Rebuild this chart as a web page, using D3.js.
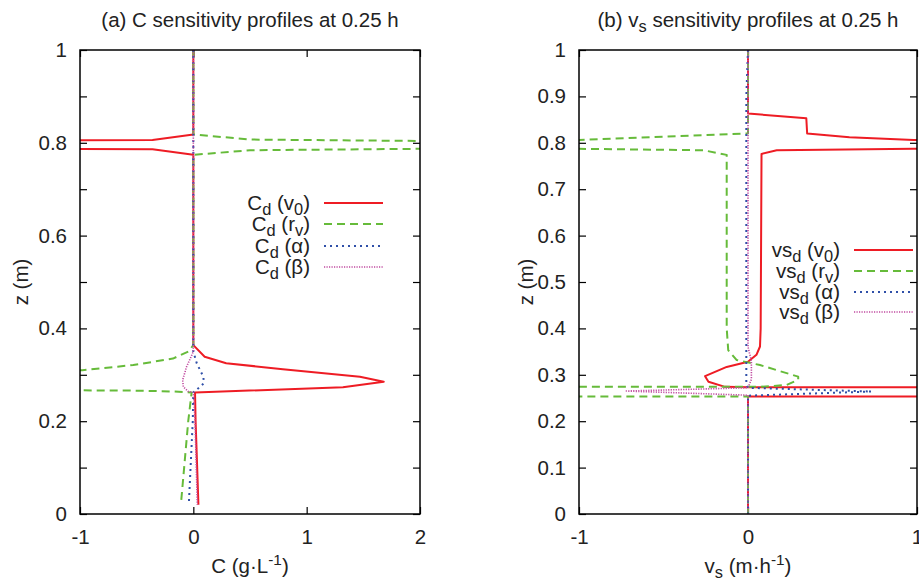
<!DOCTYPE html>
<html><head><meta charset="utf-8">
<script src="https://cdn.jsdelivr.net/npm/d3@7"></script>
<style>
body{margin:0;background:#fff;}
svg{display:block;font-family:"Liberation Sans",Arial,sans-serif;}
</style></head>
<body><svg id="c" width="919" height="584"></svg>
<script>
// ---------- DATA: profiles as [value, z] ----------
// Panel (a): C sensitivity (g/L) vs depth z (m)
const cV0 = [[0,1],[0,0.818],[-0.36,0.806],[-1.5,0.805],[-1.5,0.787],[-0.36,0.786],[0,0.774],[0,0.364],[0.10,0.339],[0.29,0.325],[0.79,0.312],[1.47,0.296],[1.68,0.285],[1.32,0.273],[0.015,0.262],[0.02,0.2],[0.045,0.02]];
const cRv = [[0,1],[0,0.818],[0.5,0.807],[1.98,0.804],[2.5,0.804],[2.5,0.787],[1.98,0.787],[0.5,0.784],[0,0.774],[0,0.364],[-0.044,0.35],[-0.18,0.335],[-0.53,0.321],[-0.98,0.31],[-1.5,0.309],[-1.5,0.267],[-0.53,0.266],[-0.18,0.264],[-0.015,0.262],[-0.045,0.2],[-0.11,0.02]];
const cAlpha = [[0,1],[0,0.35],[0.03,0.325],[0.088,0.296],[0.094,0.282],[0.044,0.271],[0,0.262],[-0.005,0.2],[-0.04,0.02]];
const cBeta = [[0,1],[0,0.35],[-0.06,0.317],[-0.094,0.289],[-0.088,0.274],[-0.044,0.264],[0,0.262],[0.015,0.2],[0.035,0.02]];
// Panel (b): vs sensitivity (m/h) vs depth z (m)
const vV0 = [[0,1],[0,0.863],[0.345,0.853],[0.35,0.820],[0.6,0.812],[0.98,0.806],[1.5,0.805],[1.5,0.787],[0.98,0.787],[0.17,0.784],[0.08,0.776],[0.075,0.40],[0.071,0.361],[0.05,0.343],[0,0.328],[-0.126,0.317],[-0.254,0.297],[-0.234,0.285],[-0.136,0.274],[0,0.273],[1.0,0.273],[1.5,0.273],[1.5,0.253],[0,0.253],[0,0]];
const vRv = [[0,1],[0,0.82],[-1,0.806],[-1.5,0.805],[-1.5,0.787],[-1,0.787],[-0.264,0.784],[-0.126,0.774],[-0.126,0.40],[-0.117,0.353],[-0.068,0.332],[0.071,0.321],[0.297,0.296],[0.297,0.289],[0.228,0.278],[0.07,0.274],[-1,0.274],[-1.5,0.274],[-1.5,0.253],[0,0.253],[0,0]];
const vAlpha = [[0,1],[-0.01,0.9],[-0.01,0.28],[0,0.272],[0.73,0.264],[0,0.255],[0,0]];
const vBeta = [[0,1],[0,0.36],[0.02,0.33],[0.02,0.29],[0,0.272],[-0.72,0.265],[0,0.256],[0,0]];

const xTicksA = [-1,0,1,2];
const xTicksB = [-1,0,1];
const zTicks = [0,0.1,0.2,0.3,0.4,0.5,0.6,0.7,0.8,0.9,1];
const paramLabels = [["v","0"],["r","v"],["α",null],["β",null]];

// ---------- STYLE ----------
const styles = [
  {color:"#ee1c24", dash:null, w:2},
  {color:"#66bb3a", dash:"8,5", w:2},
  {color:"#2f4fa8", dash:"2,4", w:2},
  {color:"#c04aa0", dash:"1.2,1.3", w:1.6}
];
const FS = 20.5;
const svg = d3.select("#c");
const fmt = d => d3.format("~g")(d).replace("−","-");

function panel(opt){
  const x = d3.scaleLinear().domain(opt.xdom).range([opt.left, opt.right]);
  const y = d3.scaleLinear().domain([0,1]).range([514, 50]);
  const g = svg.append("g");
  const cid = "clip"+opt.id;
  g.append("clipPath").attr("id",cid).append("rect")
    .attr("x",opt.left).attr("y",50).attr("width",opt.right-opt.left).attr("height",464);

  // axes
  const fmtY = opt.labelEvery2 ? (d => (Math.round(d*10)%2===0 ? fmt(d) : "")) : fmt;
  const axL = g.append("g").attr("transform",`translate(${opt.left},0)`)
    .call(d3.axisLeft(y).tickValues(zTicks).tickFormat(fmtY).tickSizeInner(-7).tickSizeOuter(0).tickPadding(13));
  const axR = g.append("g").attr("transform",`translate(${opt.right},0)`)
    .call(d3.axisRight(y).tickValues(zTicks).tickFormat("").tickSizeInner(-7).tickSizeOuter(0));
  const axB = g.append("g").attr("transform",`translate(0,514)`)
    .call(d3.axisBottom(x).tickValues(opt.xticks).tickFormat(fmt).tickSizeInner(-7).tickSizeOuter(0).tickPadding(15));
  const axT = g.append("g").attr("transform",`translate(0,50)`)
    .call(d3.axisTop(x).tickValues(opt.xticks).tickFormat("").tickSizeInner(-7).tickSizeOuter(0));
  [axL,axR,axB,axT].forEach(a=>{
    a.select(".domain").remove();
    a.selectAll(".tick line").attr("stroke","#000").attr("stroke-width",1.2);
    a.selectAll("text").attr("font-size",FS).attr("fill","#222").attr("font-family","Liberation Sans, Arial, sans-serif");
  });

  // series
  const line = d3.line().x(d=>x(d[0])).y(d=>y(d[1]));
  const lg = g.append("g").attr("clip-path",`url(#${cid})`);
  opt.series.forEach((s,i)=>{
    lg.append("path").attr("d",line(s)).attr("fill","none")
      .attr("stroke",styles[i].color).attr("stroke-width",styles[i].w)
      .attr("stroke-dasharray",styles[i].dash).attr("stroke-linejoin","round");
  });

  // frame
  g.append("rect").attr("x",opt.left).attr("y",50).attr("width",opt.right-opt.left).attr("height",464)
    .attr("fill","none").attr("stroke","#000").attr("stroke-width",1.5);

  // legend
  paramLabels.forEach((p,i)=>{
    const yy = opt.legY[i];
    const t = g.append("text").attr("x",opt.legTextX).attr("y",yy+7).attr("text-anchor","end")
      .attr("font-size",FS).attr("fill","#222");
    t.append("tspan").text(opt.legPrefix);
    t.append("tspan").attr("font-size",FS*0.8).attr("dy",5).text("d");
    t.append("tspan").attr("dy",-5).text(" (" + p[0]);
    if(p[1]){
      t.append("tspan").attr("font-size",FS*0.8).attr("dy",5).text(p[1]);
      t.append("tspan").attr("dy",-5).text(")");
    } else {
      t.append("tspan").text(")");
    }
    g.append("line").attr("x1",opt.legTextX+14).attr("x2",opt.legTextX+73).attr("y1",yy).attr("y2",yy)
      .attr("stroke",styles[i].color).attr("stroke-width",styles[i].w).attr("stroke-dasharray",styles[i].dash);
  });

  // y title
  g.append("text").attr("transform",`translate(${opt.ztitleX},282) rotate(-90)`).attr("text-anchor","middle")
    .attr("font-size",FS).attr("fill","#222").text("z (m)");
  return {x,y,g};
}

const A = panel({id:"a", xdom:[-1,2], left:80, right:420, xticks:xTicksA, labelEvery2:true,
  series:[cV0,cRv,cAlpha,cBeta], legY:[203,224,246,267], legTextX:310, legPrefix:"C", ztitleX:28});
const B = panel({id:"b", xdom:[-1,1], left:579, right:917, xticks:xTicksB, labelEvery2:false,
  series:[vV0,vRv,vAlpha,vBeta], legY:[250,271,292,312], legTextX:840, legPrefix:"vs", ztitleX:533});

// titles
const t1 = svg.append("text").attr("x",250).attr("y",27).attr("text-anchor","middle").attr("font-size",FS).attr("fill","#222")
  .text("(a) C sensitivity profiles at 0.25 h");
const t2 = svg.append("text").attr("x",748).attr("y",27).attr("text-anchor","middle").attr("font-size",FS).attr("fill","#222");
t2.append("tspan").text("(b) v");
t2.append("tspan").attr("font-size",FS*0.8).attr("dy",5).text("s");
t2.append("tspan").attr("dy",-5).text(" sensitivity profiles at 0.25 h");

// x titles
const x1 = svg.append("text").attr("x",250).attr("y",573).attr("text-anchor","middle").attr("font-size",FS).attr("fill","#222");
x1.append("tspan").text("C (g·L");
x1.append("tspan").attr("font-size",FS*0.75).attr("dy",-8).text("-1");
x1.append("tspan").attr("dy",8).text(")");
const x2 = svg.append("text").attr("x",748).attr("y",573).attr("text-anchor","middle").attr("font-size",FS).attr("fill","#222");
x2.append("tspan").text("v");
x2.append("tspan").attr("font-size",FS*0.8).attr("dy",5).text("s");
x2.append("tspan").attr("dy",-5).text(" (m·h");
x2.append("tspan").attr("font-size",FS*0.75).attr("dy",-8).text("-1");
x2.append("tspan").attr("dy",8).text(")");
</script></body></html>
